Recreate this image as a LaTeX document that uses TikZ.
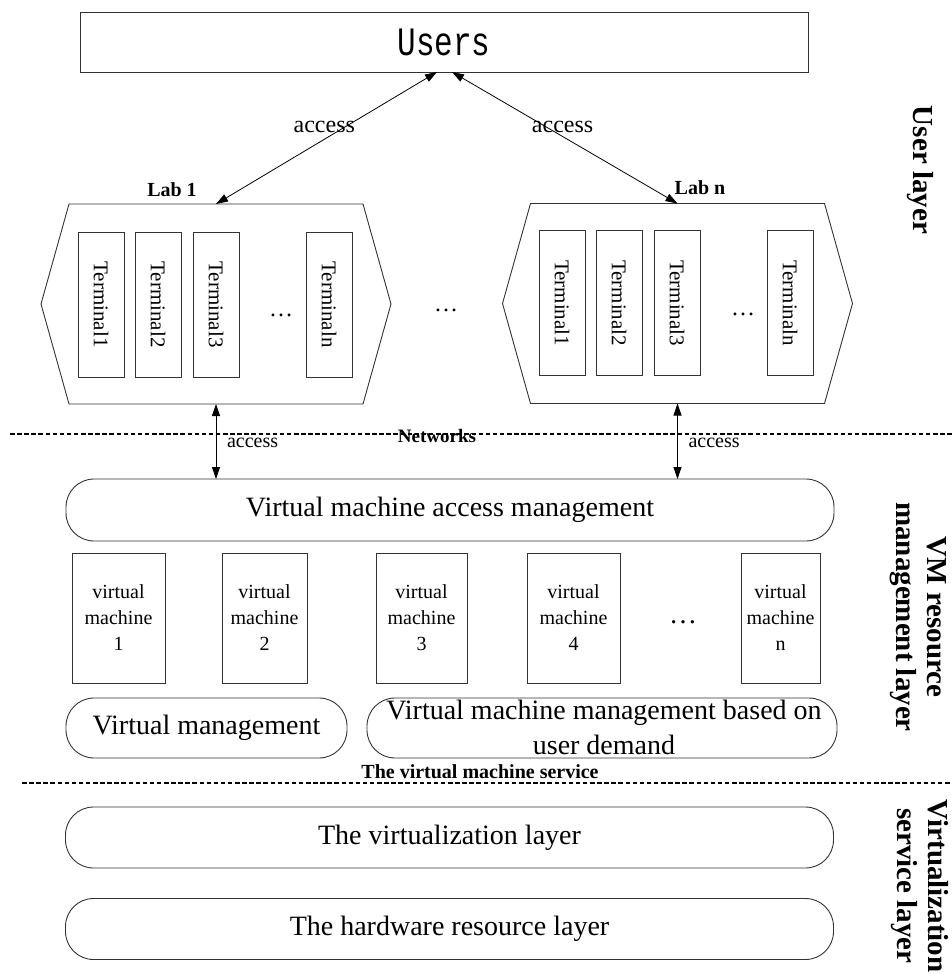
\documentclass[tikz,border=0pt]{standalone}
\usepackage{fontspec}
\setmainfont{Liberation Serif}
\newfontfamily\usersfont{Liberation Mono}
\usetikzlibrary{arrows.meta}

\tikzset{
  every node/.style={inner sep=0pt, outer sep=0pt},
  frame/.style={draw=black!80, line width=0.9pt},
  pill/.style={frame, rounded corners=28pt, minimum height=61pt,
    font=\fontsize{28}{34}\selectfont},
  labarea/.style={minimum width=294pt, minimum height=200pt},
  term/.style={frame, rotate=-90, minimum width=145pt, minimum height=46pt,
    font=\fontsize{21}{25}\selectfont},
  vmbox/.style={frame, minimum height=130pt, align=center,
    font=\fontsize{20}{26}\selectfont},
  link/.style={line width=0.8pt,
    {Triangle[length=12pt,width=8pt]}-{Triangle[length=12pt,width=8pt]}},
  sep/.style={line width=2pt, dash pattern=on 4.5pt off 2.6pt},
  accesstop/.style={font=\fontsize{24}{28}\selectfont},
  accessbot/.style={font=\fontsize{20}{24}\selectfont},
  boldlabel/.style={font=\bfseries\fontsize{20}{24}\selectfont},
  dotsnode/.style={font=\fontsize{24}{28}\selectfont},
  layername/.style={rotate=-90, align=center,
    font=\bfseries\fontsize{29}{31}\selectfont},
}

\begin{document}
\begin{tikzpicture}[x=1pt,y=-1pt]
\useasboundingbox (0,0) rectangle (952,974);

% ---------- user layer ----------
\node[frame, minimum width=728pt, minimum height=60pt,
      font=\usersfont\fontsize{31}{36}\selectfont] (users) at (444,42)
      {\scalebox{1}[1.3]{Users}};

\node[labarea] (lab1) at (216,304) {};
\node[labarea] (labn) at (677.5,303.5) {};
\foreach \l in {lab1,labn}
  \draw[frame] (\l.north west) -- (\l.north east) -- ([xshift=28pt]\l.east)
    -- (\l.south east) -- (\l.south west) -- ([xshift=-28pt]\l.west) -- cycle;

\node[boldlabel] (lab1name) at (172,190) {Lab 1};
\node[boldlabel] (labnname) at (700,188) {Lab n};

\foreach \x/\n in {101/1,158/2,216/3,329/n}
  \node[term] (ta\n) at (\x,304.5) {Terminal\n};
\foreach \x/\n in {562/1,619/2,677/3,790/n}
  \node[term] (tb\n) at (\x,303) {Terminal\n};

\node[dotsnode] (dotsa) at (281,315) {\ldots};
\node[dotsnode] (dotsb) at (743,314) {\ldots};
\node[dotsnode] (dotsmid) at (446,310) {\ldots};

\draw[link] ([xshift=-7pt]users.south) -- (lab1.north)
  node[accesstop, pos=0.415, xshift=-21pt] (acc1) {access};
\draw[link] ([xshift=8pt]users.south) -- (labn.north)
  node[accesstop, pos=0.415, xshift=17pt] (acc2) {access};

% ---------- networks ----------
\coordinate (netL) at (10,434);
\coordinate (netR) at (952,434);
\draw[sep] (netL) -- (netR);
\node[font=\bfseries\fontsize{19}{23}\selectfont] (net) at (437,436) {Networks};

% ---------- VM resource management layer ----------
\node[pill, minimum width=768pt, minimum height=62pt] (vmaccess) at (450,510)
  {Virtual machine access management};

\draw[link] (lab1.south) -- (lab1.south |- vmaccess.north)
  node[accessbot, pos=0.52, anchor=west, xshift=11pt] (acc3) {access};
\draw[link] (labn.south) -- (labn.south |- vmaccess.north)
  node[accessbot, pos=0.52, anchor=west, xshift=11pt] (acc4) {access};

\node[vmbox, minimum width=93pt] (vm1) at (118.5,618) {virtual\\machine\\1};
\node[vmbox, minimum width=85pt] (vm2) at (264.5,618) {virtual\\machine\\2};
\node[vmbox, minimum width=91pt] (vm3) at (421.5,618) {virtual\\machine\\3};
\node[vmbox, minimum width=93pt] (vm4) at (573.5,618) {virtual\\machine\\4};
\node[vmbox, minimum width=79pt] (vmn) at (780.5,618) {virtual\\machine\\n};
\node[font=\fontsize{28}{32}\selectfont] (dotsvm) at (683,622) {\ldots};

\node[pill, minimum width=281pt, minimum height=60pt] (vmgmt) at (206.5,728)
  {Virtual management};
\node[pill, minimum width=470pt, minimum height=60pt] (demand) at (602,728) {};
\node[align=center, font=\fontsize{28}{35}\selectfont] (demandtext) at (604,727.5)
  {Virtual machine management based on\\user demand};

\node[boldlabel] (service) at (480,772) {The virtual machine service};

\coordinate (svcL) at (22,783);
\coordinate (svcR) at (952,783);
\draw[sep] (svcL) -- (svcR);

% ---------- virtualization service layer ----------
\node[pill, minimum width=768pt] (virt) at (449.5,837.5) {The virtualization layer};
\node[pill, minimum width=768pt] (hw) at (449.5,929) {The hardware resource layer};

% ---------- layer names ----------
\node[layername] (userlayer) at (920,170) {User layer};
\node[layername] (vmlayer) at (918,617) {VM resource\\management layer};
\node[layername] (virtlayer) at (920,886) {Virtualization\\service layer};
\end{tikzpicture}
\end{document}
